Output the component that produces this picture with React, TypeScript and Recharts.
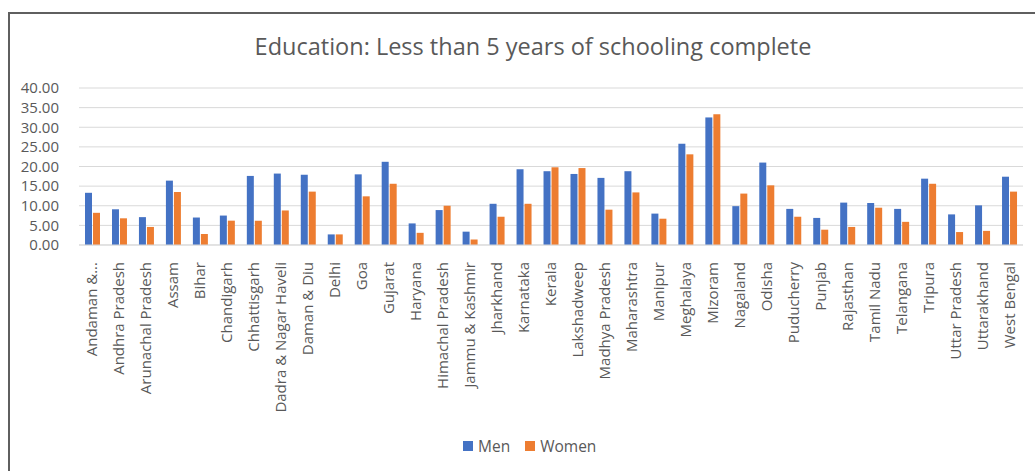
import React from 'react';
import { BarChart, Bar, XAxis, YAxis, CartesianGrid } from 'recharts';

const states = [
  'Andaman & Nicobar Islands', 'Andhra Pradesh', 'Arunachal Pradesh', 'Assam', 'Bihar', 'Chandigarh',
  'Chhattisgarh', 'Dadra & Nagar Haveli', 'Daman & Diu', 'Delhi', 'Goa', 'Gujarat', 'Haryana',
  'Himachal Pradesh', 'Jammu & Kashmir', 'Jharkhand', 'Karnataka', 'Kerala', 'Lakshadweep',
  'Madhya Pradesh', 'Maharashtra', 'Manipur', 'Meghalaya', 'Mizoram', 'Nagaland', 'Odisha',
  'Puducherry', 'Punjab', 'Rajasthan', 'Tamil Nadu', 'Telangana', 'Tripura', 'Uttar Pradesh',
  'Uttarakhand', 'West Bengal',
];

const men = [
  13.3, 9.1, 7.1, 16.4, 7.0, 7.5, 17.6, 18.2, 17.9, 2.7, 18.0, 21.2, 5.5, 8.9, 3.4, 10.5, 19.3,
  18.8, 18.1, 17.1, 18.8, 8.0, 25.8, 32.5, 9.9, 21.0, 9.2, 6.9, 10.8, 10.7, 9.2, 16.9, 7.8, 10.1, 17.4,
];

const women = [
  8.2, 6.8, 4.6, 13.5, 2.8, 6.2, 6.2, 8.8, 13.6, 2.7, 12.4, 15.6, 3.1, 10.0, 1.4, 7.2, 10.5,
  19.8, 19.6, 9.0, 13.4, 6.7, 23.1, 33.3, 13.1, 15.2, 7.2, 3.9, 4.6, 9.5, 5.9, 15.6, 3.3, 3.6, 13.6,
];

const yTicks = [0, 5, 10, 15, 20, 25, 30, 35, 40];

const series = [
  { key: 'Men', color: '#4472C4' },
  { key: 'Women', color: '#ED7D31' },
];

const data = states.map((name, i) => ({ name, Men: men[i], Women: women[i] }));

const FONT = '"Open Sans", sans-serif';
const GREY = '#595959';

// Excel cuts the longest name to "Andaman &..."
const shortName = (s: string) => (s.length > 21 ? s.slice(0, s.lastIndexOf(' ', 10)) + '...' : s);

const StateTick = (props: any) => {
  const { x, y, payload } = props;
  return (
    <text
      transform={`translate(${x + 5},${y + 9}) rotate(-90)`}
      textAnchor="end"
      fontSize={15}
      fontFamily={FONT}
      fill={GREY}
    >
      {shortName(payload.value)}
    </text>
  );
};

export default function App() {
  return (
    <div style={{ position: 'fixed', left: 0, top: 0, width: 1035, height: 471, overflow: 'hidden', background: '#fff' }}>
      <div
        style={{
          position: 'absolute', left: 8, top: 12, width: 1100, height: 600,
          borderTop: '2px solid #5f5f5f', borderLeft: '2px solid #5f5f5f',
        }}
      />
      <div
        style={{
          position: 'absolute', left: 0, top: 30, width: 1066, textAlign: 'center',
          fontFamily: FONT, fontSize: 23.5, color: GREY, lineHeight: '32px',
        }}
      >
        Education: Less than 5 years of schooling complete
      </div>
      <div style={{ position: 'absolute', left: 0, top: 0 }}>
        <BarChart
          width={1035}
          height={471}
          data={data}
          margin={{ top: 88, right: 12, bottom: 0, left: 0 }}
          barSize={7}
          barGap={1}
        >
          <CartesianGrid stroke="#d9d9d9" vertical={false} />
          <XAxis
            dataKey="name"
            interval={0}
            tick={<StateTick />}
            tickLine={false}
            axisLine={{ stroke: '#d9d9d9' }}
            height={226}
          />
          <YAxis
            domain={[0, 40]}
            ticks={yTicks}
            tickFormatter={(v: number) => v.toFixed(2)}
            tick={{ fill: GREY, fontSize: 15, fontFamily: FONT }}
            axisLine={false}
            tickLine={false}
            width={79}
            tickMargin={14}
            interval={0}
          />
          {series.map((s) => (
            <Bar key={s.key} dataKey={s.key} fill={s.color} isAnimationActive={false} />
          ))}
        </BarChart>
      </div>
      <div
        style={{
          position: 'absolute', left: 463, top: 436, display: 'flex', alignItems: 'center',
          fontFamily: FONT, fontSize: 15.5, color: GREY, lineHeight: '20px',
        }}
      >
        {series.map((s) => (
          <div key={s.key} style={{ display: 'flex', alignItems: 'center', marginRight: 15 }}>
            <span style={{ width: 10, height: 10, background: s.color, display: 'inline-block', marginRight: 5 }} />
            <span>{s.key}</span>
          </div>
        ))}
      </div>
    </div>
  );
}
